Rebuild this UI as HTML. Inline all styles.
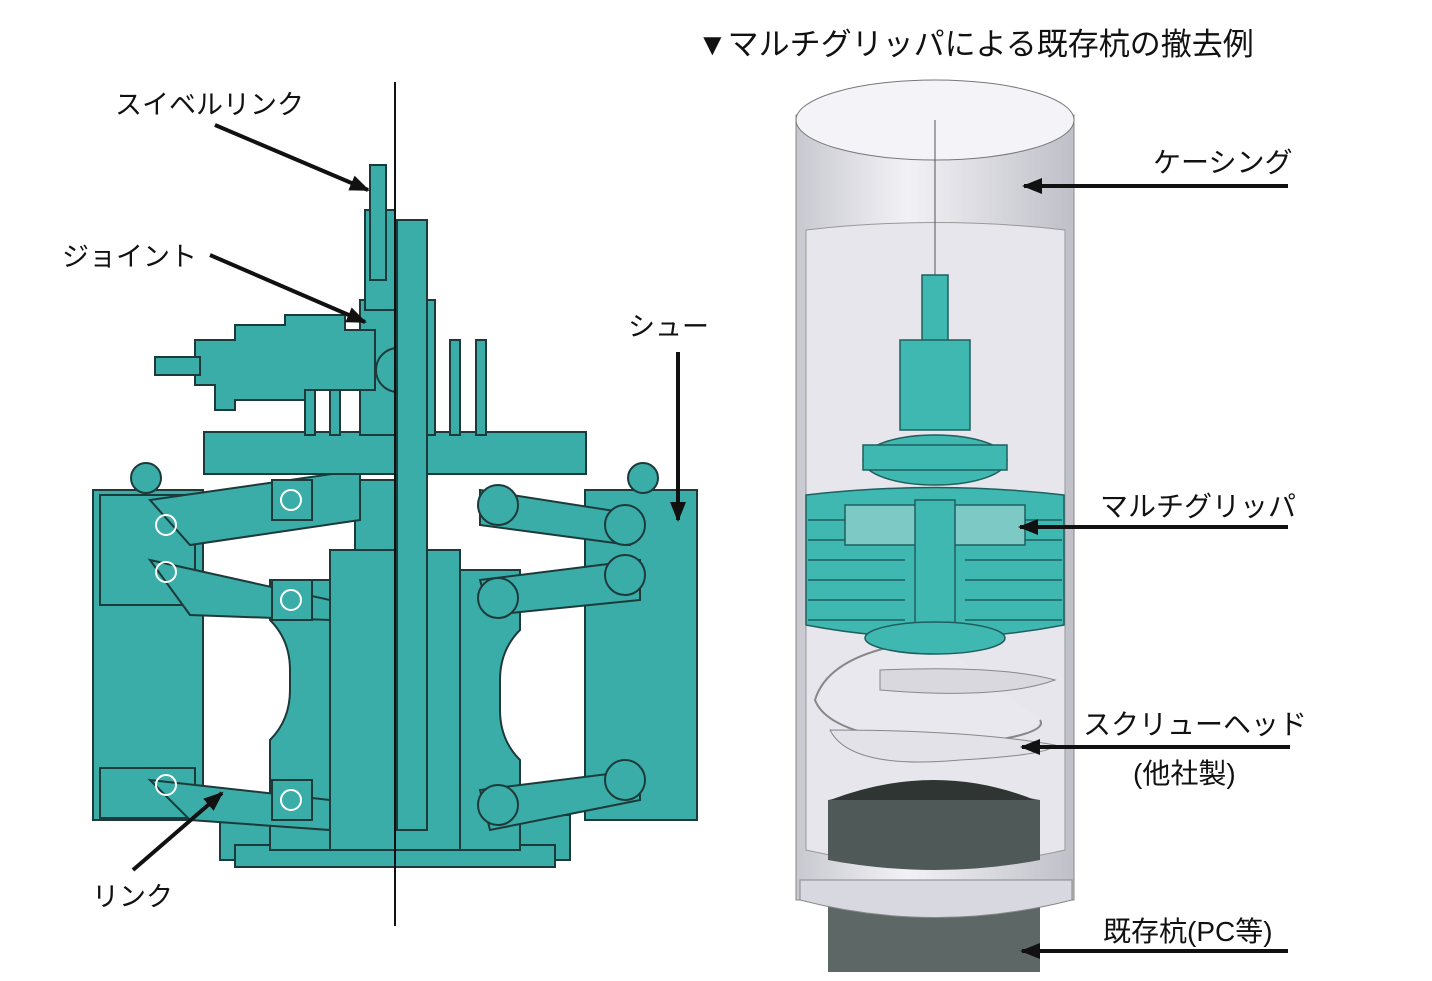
<!DOCTYPE html>
<html><head><meta charset="utf-8"><style>
html,body{margin:0;padding:0;background:#fff;}
svg{display:block;}
text{font-family:"Liberation Sans","Noto Sans CJK JP",sans-serif;fill:#111;}
</style></head><body>
<svg width="1432" height="981" viewBox="0 0 1432 981" xmlns="http://www.w3.org/2000/svg">
<defs>
<marker id="ah" markerWidth="20" markerHeight="16" refX="18" refY="8" orient="auto" markerUnits="userSpaceOnUse"><path d="M0,0 L20,8 L0,16 z" fill="#111"/></marker>
<linearGradient id="cg" x1="0" x2="1"><stop offset="0" stop-color="#c8c8d0"/><stop offset="0.4" stop-color="#f2f2f6"/><stop offset="1" stop-color="#bfbfc8"/></linearGradient>
</defs>
<g fill="#3aada8" stroke="#1d3a3a" stroke-width="2">
<rect x="93" y="490" width="110" height="330"/>
<rect x="100" y="495" width="95" height="110"/>
<rect x="100" y="768" width="95" height="50"/>
<circle cx="146" cy="478" r="15"/>
<rect x="585" y="490" width="112" height="330"/>
<circle cx="643" cy="478" r="15"/>
<rect x="220" y="815" width="350" height="45"/>
<rect x="235" y="845" width="320" height="22"/>
<path d="M270,580 h60 v270 h-60 v-110 q20,-20 20,-50 v-20 q0,-30 -20,-50z"/>
<path d="M460,570 h60 v60 q-20,20 -20,50 v30 q0,30 20,50 v90 h-60z"/>
<rect x="330" y="550" width="130" height="300"/>
<rect x="355" y="480" width="65" height="70"/>
<path d="M150,500 L360,470 L360,520 L190,545z"/>
<path d="M150,560 L330,600 L330,620 L190,615z"/>
<path d="M150,780 L330,800 L330,830 L190,820z"/>
<path d="M480,490 L640,515 L630,545 L480,525z"/>
<path d="M480,580 L640,560 L640,600 L490,615z"/>
<path d="M480,790 L640,770 L640,800 L490,830z"/>
<circle cx="498" cy="505" r="20"/><circle cx="625" cy="525" r="20"/>
<circle cx="498" cy="598" r="20"/><circle cx="625" cy="575" r="20"/>
<circle cx="498" cy="805" r="20"/><circle cx="625" cy="780" r="20"/>
<rect x="272" y="480" width="40" height="40"/>
<rect x="272" y="580" width="40" height="40"/>
<rect x="272" y="780" width="40" height="40"/>
<rect x="204" y="432" width="382" height="42"/>
<rect x="360" y="300" width="75" height="135"/>
<rect x="305" y="340" width="10" height="95"/><rect x="330" y="340" width="10" height="95"/>
<rect x="450" y="340" width="10" height="95"/><rect x="476" y="340" width="10" height="95"/>
<path d="M195,340 h40 v-15 h50 v-10 h60 v15 h30 v60 h-70 v10 h-70 v10 h-20 v-25 h-20 z"/>
<rect x="155" y="357" width="45" height="18"/>
<circle cx="398" cy="370" r="22"/>
<rect x="365" y="210" width="30" height="100"/>
<rect x="370" y="165" width="16" height="115"/>
<rect x="397" y="220" width="30" height="610"/>
</g>
<g fill="none" stroke="#fff" stroke-width="2">
<circle cx="291" cy="500" r="10"/><circle cx="291" cy="600" r="10"/><circle cx="291" cy="800" r="10"/>
<circle cx="166" cy="525" r="10"/><circle cx="166" cy="572" r="10"/><circle cx="166" cy="785" r="10"/>
</g>
<line x1="395" y1="82" x2="395" y2="926" stroke="#111" stroke-width="2"/>
<text x="115" y="114" font-size="27">スイベルリンク</text>
<text x="62" y="266" font-size="27">ジョイント</text>
<text x="628" y="336" font-size="27">シュー</text>
<text x="92" y="906" font-size="27">リンク</text>
<g stroke="#111" stroke-width="4" fill="none" marker-end="url(#ah)">
<line x1="215" y1="125" x2="368" y2="190"/>
<line x1="210" y1="255" x2="365" y2="322"/>
<line x1="678" y1="352" x2="678" y2="520"/>
<line x1="133" y1="870" x2="222" y2="793"/>
</g>
<text x="697" y="55" font-size="31">▼マルチグリッパによる既存杭の撤去例</text>
<rect x="828" y="860" width="212" height="112" fill="#5d6766"/>
<rect x="796" y="115" width="278" height="785" fill="url(#cg)" stroke="#888"/>
<ellipse cx="935" cy="120" rx="139" ry="40" fill="#f4f4f8" stroke="#777"/>
<path d="M806,230 Q935,215 1065,230 L1065,850 Q935,880 806,850z" fill="#e6e6ec" stroke="#999"/>
<path d="M828,800 Q935,780 1040,800 L1040,860 Q935,880 828,860z" fill="#4f5a58"/>
<path d="M830,800 Q935,760 1035,800" fill="#2f3533"/>
<path d="M800,880 L1072,880 L1072,900 Q935,935 800,900z" fill="#d8d8e0" stroke="#888"/>
<line x1="935" y1="120" x2="935" y2="320" stroke="#555"/>
<path d="M935,640 Q830,650 815,700 Q830,740 960,745 Q1050,735 1040,720" fill="#e8e8ee" stroke="#888" stroke-width="2"/>
<path d="M880,670 Q1000,665 1055,680 Q1000,700 880,690z" fill="#d8d8de" stroke="#888"/>
<path d="M830,730 Q850,770 960,760 Q1050,755 1055,745 Q970,730 830,730z" fill="#e2e2e8" stroke="#888"/>
<g fill="#3fb8b2" stroke="#1f5f5d" stroke-width="1.5">
<rect x="922" y="275" width="26" height="80"/>
<rect x="900" y="340" width="70" height="90"/>
<ellipse cx="935" cy="460" rx="72" ry="25"/>
<rect x="863" y="445" width="144" height="25"/>
<path d="M806,495 Q935,480 1064,495 L1064,625 Q935,650 806,625z"/>
<rect x="845" y="505" width="180" height="40" fill="#7cc9c6"/>
<rect x="915" y="500" width="40" height="145"/>
<ellipse cx="935" cy="638" rx="70" ry="16"/>
</g>
<g stroke="#1f5f5d" stroke-width="1.5">
<line x1="808" y1="520" x2="845" y2="520"/><line x1="808" y1="540" x2="845" y2="540"/><line x1="808" y1="560" x2="905" y2="560"/><line x1="808" y1="580" x2="905" y2="580"/><line x1="808" y1="600" x2="905" y2="600"/><line x1="808" y1="620" x2="905" y2="620"/>
<line x1="1025" y1="520" x2="1062" y2="520"/><line x1="1025" y1="540" x2="1062" y2="540"/><line x1="965" y1="560" x2="1062" y2="560"/><line x1="965" y1="580" x2="1062" y2="580"/><line x1="965" y1="600" x2="1062" y2="600"/><line x1="965" y1="620" x2="1062" y2="620"/>
</g>
<text x="1153" y="172" font-size="28">ケーシング</text>
<text x="1100" y="516" font-size="28">マルチグリッパ</text>
<text x="1083" y="734" font-size="28">スクリューヘッド</text>
<text x="1133" y="783" font-size="28">(他社製)</text>
<text x="1103" y="941" font-size="28">既存杭(PC等)</text>
<g stroke="#111" stroke-width="4" fill="none" marker-end="url(#ah)">
<line x1="1288" y1="186" x2="1024" y2="186"/>
<line x1="1288" y1="527" x2="1020" y2="527"/>
<line x1="1290" y1="747" x2="1022" y2="747"/>
<line x1="1288" y1="951" x2="1022" y2="951"/>
</g>
</svg>
</body></html>
